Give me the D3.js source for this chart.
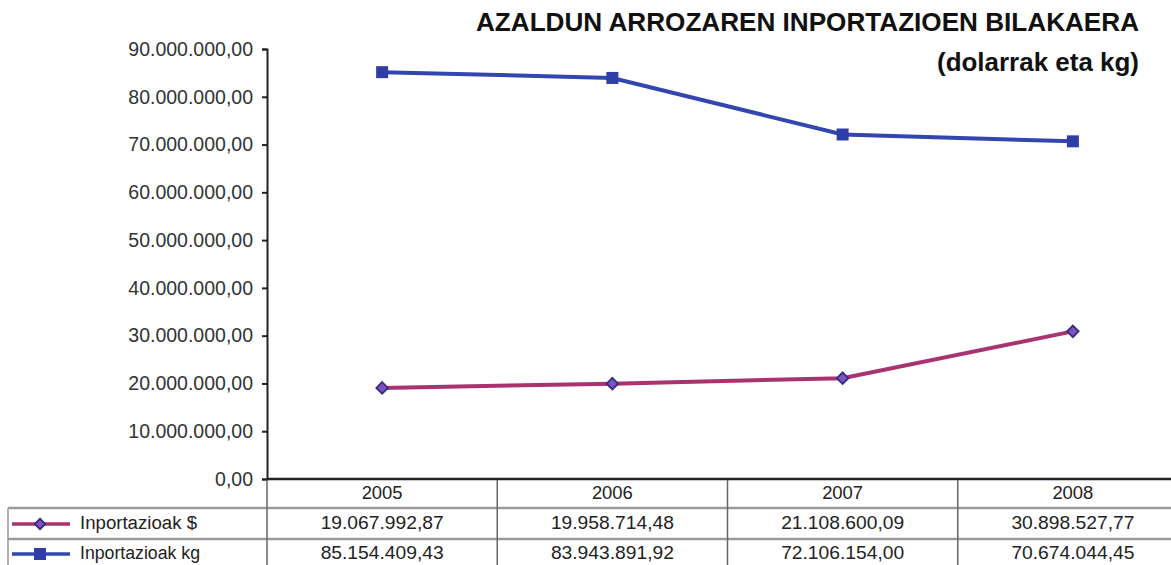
<!DOCTYPE html>
<html>
<head>
<meta charset="utf-8">
<script src="https://cdn.jsdelivr.net/npm/d3@7"></script>
<style>
    body { margin: 0; background: #fff; }
    svg { display: block; font-family: 'Liberation Sans', Arial, sans-serif; }
</style>
</head>
<body>
<div class="chart"></div>
<script>
const years = ['2005', '2006', '2007', '2008'];
const dollars = [19067992.87, 19958714.48, 21108600.09, 30898527.77];
const kilos = [85154409.43, 83943891.92, 72106154.00, 70674044.45];
const seriesNames = ['Inportazioak $', 'Inportazioak kg'];
const yTicks = [0, 10e6, 20e6, 30e6, 40e6, 50e6, 60e6, 70e6, 80e6, 90e6];

const width = 1171, height = 565;
const locale = d3.formatLocale({decimal: ',', thousands: '.', grouping: [3], currency: ['', '']});
const fmt = locale.format(',.2f');

const svg = d3.select('.chart').append('svg')
    .attr('width', width)
    .attr('height', height);

const xScale = d3.scaleBand()
    .domain(years)
    .range([267, 1188]);
const yScale = d3.scaleLinear()
    .domain([0, 90e6])
    .range([479, 49]);

// title
svg.append('text')
    .text('AZALDUN ARROZAREN INPORTAZIOEN BILAKAERA')
    .attr('x', 1139)
    .attr('y', 31)
    .attr('text-anchor', 'end')
    .attr('font-size', 25)
    .attr('font-weight', 'bold')
    .attr('textLength', 663)
    .attr('lengthAdjust', 'spacingAndGlyphs')
    .attr('fill', '#111');
svg.append('text')
    .text('(dolarrak eta kg)')
    .attr('x', 1139)
    .attr('y', 71)
    .attr('text-anchor', 'end')
    .attr('font-size', 25)
    .attr('font-weight', 'bold')
    .attr('textLength', 202)
    .attr('lengthAdjust', 'spacingAndGlyphs')
    .attr('fill', '#111');

// y axis
const yAxis = d3.axisLeft()
    .scale(yScale)
    .tickValues(yTicks)
    .tickFormat(fmt)
    .tickSize(5)
    .tickPadding(9);
const gy = svg.append('g')
    .attr('class', 'axis y-axis')
    .attr('transform', 'translate(267,0)')
    .call(yAxis);
gy.select('.domain').attr('stroke', '#222').attr('stroke-width', 2);
gy.selectAll('.tick line').attr('stroke', '#222').attr('stroke-width', 2);
gy.selectAll('.tick text')
    .attr('font-size', 19.5)
    .attr('font-family', "'Liberation Sans', Arial, sans-serif")
    .attr('fill', '#333');

// x axis line
svg.append('line')
    .attr('x1', 267).attr('x2', width)
    .attr('y1', yScale(0)).attr('y2', yScale(0))
    .attr('stroke', '#222')
    .attr('stroke-width', 2.5);

// data table
const rowText = [494, 524, 554];
const grid = svg.append('g').attr('class', 'table');
grid.selectAll('.hline')
    .data([508, 539])
    .enter()
    .append('line')
    .attr('x1', 8).attr('x2', width)
    .attr('y1', d => d).attr('y2', d => d)
    .attr('stroke', '#9a9a9a')
    .attr('stroke-width', 2.5);
grid.append('line')
    .attr('x1', 8).attr('x2', 8)
    .attr('y1', 508).attr('y2', height)
    .attr('stroke', '#999')
    .attr('stroke-width', 1.5);
grid.selectAll('.vline')
    .data(years)
    .enter()
    .append('line')
    .attr('x1', d => xScale(d)).attr('x2', d => xScale(d))
    .attr('y1', 480).attr('y2', height)
    .attr('stroke', '#666')
    .attr('stroke-width', 1.5);

grid.selectAll('.year')
    .data(years)
    .enter()
    .append('text')
    .text(d => d)
    .attr('x', d => xScale(d) + xScale.bandwidth() / 2)
    .attr('y', rowText[0])
    .attr('text-anchor', 'middle')
    .attr('dominant-baseline', 'middle')
    .attr('font-size', 18)
    .attr('textLength', 41)
    .attr('lengthAdjust', 'spacingAndGlyphs')
    .attr('fill', '#222');

const rows = [dollars, kilos];
rows.forEach((vals, r) => {
    grid.selectAll('.val' + r)
        .data(vals)
        .enter()
        .append('text')
        .text(d => fmt(d))
        .attr('x', (d, i) => xScale(years[i]) + xScale.bandwidth() / 2)
        .attr('y', rowText[r + 1])
        .attr('text-anchor', 'middle')
        .attr('dominant-baseline', 'middle')
        .attr('font-size', 18.5)
        .attr('textLength', 123)
        .attr('lengthAdjust', 'spacingAndGlyphs')
        .attr('fill', '#222');
});

// series
const lineColors = ['#a8336e', '#3346b0'];
const line = d3.line()
    .x((d, i) => xScale(years[i]) + xScale.bandwidth() / 2)
    .y(d => yScale(d));

rows.forEach((vals, r) => {
    svg.append('path')
        .datum(vals)
        .attr('d', line)
        .attr('fill', 'none')
        .attr('stroke', lineColors[r])
        .attr('stroke-width', 4);
});

// diamonds
svg.selectAll('.diamond')
    .data(dollars)
    .enter()
    .append('path')
    .attr('d', d3.symbol().type(d3.symbolDiamond2).size(85))
    .attr('transform', (d, i) => `translate(${xScale(years[i]) + xScale.bandwidth() / 2},${yScale(d)})`)
    .attr('fill', '#7a55c0')
    .attr('stroke', '#3a2a80')
    .attr('stroke-width', 1.8);

// squares
svg.selectAll('.square')
    .data(kilos)
    .enter()
    .append('rect')
    .attr('x', (d, i) => xScale(years[i]) + xScale.bandwidth() / 2 - 6)
    .attr('y', d => yScale(d) - 6)
    .attr('width', 12)
    .attr('height', 12)
    .attr('fill', '#2f3ea6');

// legend keys in table
seriesNames.forEach((name, r) => {
    const cy = rowText[r + 1];
    grid.append('line')
        .attr('x1', 12).attr('x2', 70)
        .attr('y1', cy).attr('y2', cy)
        .attr('stroke', lineColors[r])
        .attr('stroke-width', 3.5);
    if (r === 0) {
        grid.append('path')
            .attr('d', d3.symbol().type(d3.symbolDiamond2).size(70))
            .attr('transform', `translate(40,${cy})`)
            .attr('fill', '#7a55c0')
            .attr('stroke', '#3a2a80')
            .attr('stroke-width', 1.8);
    } else {
        grid.append('rect')
            .attr('x', 34).attr('y', cy - 6)
            .attr('width', 12).attr('height', 12)
            .attr('fill', '#2f3ea6');
    }
    grid.append('text')
        .text(name)
        .attr('x', 80)
        .attr('y', cy)
        .attr('dominant-baseline', 'middle')
        .attr('font-size', 18)
        .attr('textLength', r === 0 ? 117 : 120)
        .attr('lengthAdjust', 'spacingAndGlyphs')
        .attr('fill', '#222');
});
</script>
</body>
</html>
